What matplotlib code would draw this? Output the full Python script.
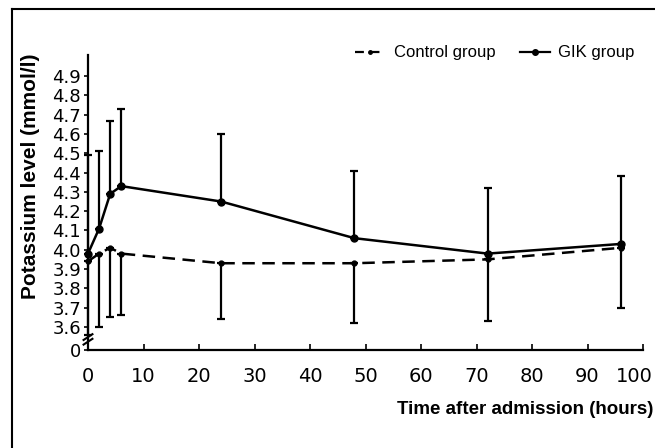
import numpy as np
import matplotlib
matplotlib.use("Agg")
import matplotlib.pyplot as plt
import matplotlib.transforms as mtransforms
from matplotlib.lines import Line2D

# hours after admission
hours = [0, 2, 4, 6, 24, 48, 72, 96]

# GIK group mean and upper error bar end
gik_mean = [3.98, 4.11, 4.29, 4.33, 4.25, 4.06, 3.98, 4.03]
gik_upper = [4.49, 4.51, 4.67, 4.73, 4.60, 4.41, 4.32, 4.38]

# Control group mean and lower error bar end
ctrl_mean = [3.94, 3.98, 4.01, 3.98, 3.93, 3.93, 3.95, 4.01]
ctrl_lower = [3.56, 3.60, 3.65, 3.66, 3.64, 3.62, 3.63, 3.70]

ytick_vals = [3.6, 3.7, 3.8, 3.9, 4.0, 4.1, 4.2, 4.3, 4.4, 4.5, 4.6, 4.7, 4.8, 4.9]
xtick_vals = [0, 10, 20, 30, 40, 50, 60, 70, 80, 90, 100]
zero_pos = 3.48  # where the broken axis puts "0"

plt.rcParams['font.family'] = ['Liberation Sans', 'DejaVu Sans']

fig = plt.figure(figsize=(6.55, 4.48), dpi=100)
ax = fig.add_axes([88/655, 1 - 350/448, (643 - 88)/655, (350 - 55)/448])

gik_err = np.array(gik_upper) - np.array(gik_mean)
ctrl_err = np.array(ctrl_mean) - np.array(ctrl_lower)

ax.errorbar(hours, ctrl_mean, yerr=[ctrl_err, np.zeros_like(ctrl_err)],
            color='black', lw=1.8, ls=(0, (5, 3)), marker='o', ms=3.5,
            elinewidth=1.6, capsize=3, capthick=1.6, clip_on=False)
ax.errorbar(hours, gik_mean, yerr=[np.zeros_like(gik_err), gik_err],
            color='black', lw=1.8, marker='o', ms=5,
            elinewidth=1.6, capsize=3, capthick=1.6, clip_on=False)

ax.set_xlim(0, 100)
ax.set_ylim(zero_pos, 5.01)
ax.set_xticks(xtick_vals)
ax.set_yticks([zero_pos] + ytick_vals)
ax.set_yticklabels(['0'] + [f'{v:.1f}' for v in ytick_vals])
for lab in ax.get_xticklabels() + ax.get_yticklabels():
    lab.set_family('DejaVu Sans')
ax.tick_params(axis='y', direction='out', length=3, width=1.2, labelsize=13, pad=2)
ax.tick_params(axis='x', direction='in', length=4, width=1.2, labelsize=14, pad=12)

# keep the last x label ("100") inside the figure edge
last = ax.get_xticklabels()[-1]
last.set_horizontalalignment('right')
last.set_transform(last.get_transform() +
                   mtransforms.ScaledTranslation(10/100, 0, fig.dpi_scale_trans))

for s in ['top', 'right']:
    ax.spines[s].set_visible(False)
for s in ['left', 'bottom']:
    ax.spines[s].set_linewidth(1.6)

# axis break mark
for dy in (-0.012, 0.012):
    ax.plot([-0.8, 0.8], [3.535 + dy - 0.015, 3.535 + dy + 0.015],
            color='black', lw=1.5, clip_on=False)

fig.text(31/655, 1 - 176/448, 'Potassium level (mmol/l)', rotation=90,
         ha='center', va='center', fontsize=15, fontweight='bold')
fig.text(653/655, 1 - 409/448, 'Time after admission (hours)',
         ha='right', va='center', fontsize=13.5, fontweight='bold')

# legend
handles = [
    Line2D([], [], color='black', lw=1.6, ls=(0, (4, 3)), marker='o', ms=2.5),
    Line2D([], [], color='black', lw=1.6, marker='o', ms=4),
]
fig.legend(handles, ['Control group', 'GIK group'], loc='center',
           bbox_to_anchor=(495/655, 1 - 53/448), ncol=2, frameon=False,
           fontsize=12, handlelength=1.8, handletextpad=0.5, columnspacing=1.5)

# frame around the figure, cut off at right and bottom
fig.add_artist(Line2D([12/655, 1.0], [1 - 9/448, 1 - 9/448], color='black', lw=1.5,
                      transform=fig.transFigure))
fig.add_artist(Line2D([12/655, 12/655], [0.0, 1 - 9/448], color='black', lw=1.5,
                      transform=fig.transFigure))

fig.savefig('out.png', dpi=100)
